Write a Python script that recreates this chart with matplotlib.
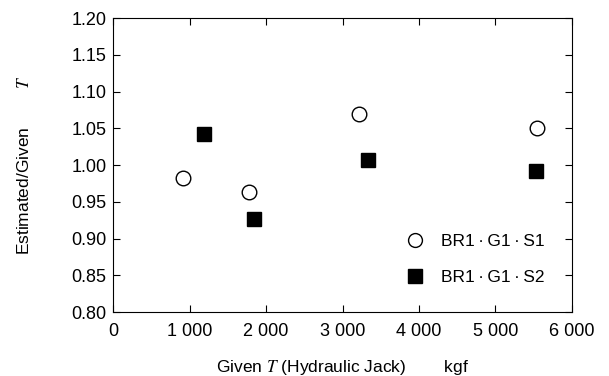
import matplotlib
matplotlib.use("Agg")
import matplotlib.pyplot as plt

plt.rcParams['font.family'] = ['Liberation Sans', 'DejaVu Sans']
plt.rcParams['mathtext.fontset'] = 'stix'

s1_x = [911, 1781, 3211, 5543]
s1_y = [0.982, 0.963, 1.069, 1.050]
s2_x = [1181, 1846, 3337, 5533]
s2_y = [1.042, 0.926, 1.007, 0.992]

x_ticks = [0, 1000, 2000, 3000, 4000, 5000, 6000]
x_labels = ["0", "1 000", "2 000", "3 000", "4 000", "5 000", "6 000"]
y_ticks = [0.80, 0.85, 0.90, 0.95, 1.00, 1.05, 1.10, 1.15, 1.20]

fig = plt.figure(figsize=(6.09, 3.76), dpi=100)
ax = fig.add_axes([0.186, 0.170, 0.753, 0.782])

ax.plot(s1_x, s1_y, 'o', ms=10.5, mfc='white', mec='black', mew=1.0,
        linestyle='none', label="BR1\u2009\u00b7\u2009G1\u2009\u00b7\u2009S1")
ax.plot(s2_x, s2_y, 's', ms=10.5, mfc='black', mec='black',
        linestyle='none', label="BR1\u2009\u00b7\u2009G1\u2009\u00b7\u2009S2")

ax.set_xlim(0, 6000)
ax.set_ylim(0.80, 1.20)
ax.set_xticks(x_ticks)
ax.set_xticklabels(x_labels)
ax.set_yticks(y_ticks)
ax.set_yticklabels([f"{v:.2f}" for v in y_ticks])
ax.tick_params(direction='in', length=5, width=0.8, top=True, right=True,
               labelsize=13, pad=5)
ax.tick_params(axis='x', pad=8)
for sp in ax.spines.values():
    sp.set_linewidth(0.8)

ax.set_xlabel("Given $T$ (Hydraulic Jack)        kgf", fontsize=12.5, labelpad=13)
ax.set_ylabel("Estimated/Given        $T$", fontsize=12.5, labelpad=28)

ax.legend(loc='lower right', bbox_to_anchor=(0.975, 0.04), frameon=False,
          fontsize=12.5, labelspacing=1.2, handletextpad=0.5, markerscale=0.95)

fig.savefig("out.png", dpi=100)
